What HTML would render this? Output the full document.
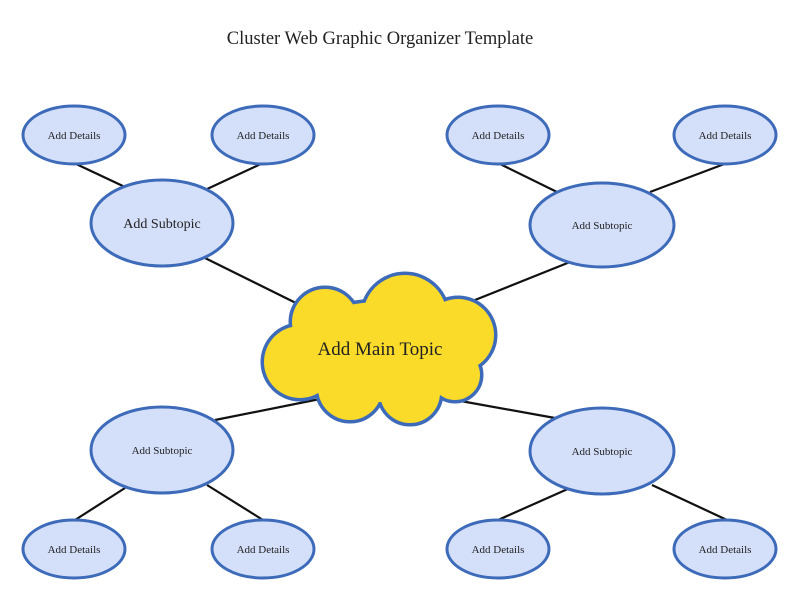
<!DOCTYPE html>
<html><head><style>body{margin:0;background:#fff}svg{display:block}</style></head><body>
<svg width="800" height="592" xmlns="http://www.w3.org/2000/svg" font-family="Liberation Serif, serif">
<rect width="800" height="592" fill="#fff"/>
<text x="380" y="44" font-size="18.5" text-anchor="middle" fill="#222">Cluster Web Graphic Organizer Template</text>
<g stroke="#111" stroke-width="2.2">
<line x1="74" y1="163" x2="125" y2="187"/><line x1="263" y1="163" x2="205" y2="190"/><line x1="205" y1="258" x2="300" y2="305"/>
<line x1="498" y1="163" x2="557" y2="192"/><line x1="727" y1="163" x2="650" y2="192"/><line x1="570" y1="262" x2="455" y2="308"/>
<line x1="215" y1="420" x2="325" y2="398"/><line x1="125" y1="488" x2="75" y2="520"/><line x1="207" y1="485" x2="263" y2="520"/>
<line x1="455" y1="400" x2="555" y2="418"/><line x1="570" y1="488" x2="498" y2="520"/><line x1="652" y1="485" x2="727" y2="520"/>
</g>
<g fill="#d4dffa" stroke="#3d6bb9" stroke-width="3">
<ellipse cx="74" cy="135" rx="51" ry="29"/><ellipse cx="263" cy="135" rx="51" ry="29"/>
<ellipse cx="498" cy="135" rx="51" ry="29"/><ellipse cx="725" cy="135" rx="51" ry="29"/>
<ellipse cx="74" cy="549" rx="51" ry="29"/><ellipse cx="263" cy="549" rx="51" ry="29"/>
<ellipse cx="498" cy="549" rx="51" ry="29"/><ellipse cx="725" cy="549" rx="51" ry="29"/>
<ellipse cx="162" cy="223" rx="71" ry="43"/><ellipse cx="602" cy="225" rx="72" ry="42"/>
<ellipse cx="162" cy="450" rx="71" ry="43"/><ellipse cx="602" cy="451" rx="72" ry="43"/>
</g>
<g stroke="#3d6bb9" stroke-width="7" fill="#3d6bb9">
<ellipse cx="380" cy="352" rx="90" ry="50"/><circle cx="325" cy="322" r="33"/><circle cx="405" cy="317" r="42"/>
<circle cx="458" cy="335" r="36"/><circle cx="300" cy="362" r="36"/><circle cx="350" cy="388" r="32"/>
<circle cx="410" cy="393" r="30"/><circle cx="455" cy="375" r="25"/>
</g>
<g fill="#fadb2a">
<ellipse cx="380" cy="352" rx="90" ry="50"/><circle cx="325" cy="322" r="33"/><circle cx="405" cy="317" r="42"/>
<circle cx="458" cy="335" r="36"/><circle cx="300" cy="362" r="36"/><circle cx="350" cy="388" r="32"/>
<circle cx="410" cy="393" r="30"/><circle cx="455" cy="375" r="25"/>
</g>
<text x="380" y="355" font-size="19" text-anchor="middle" fill="#222">Add Main Topic</text>
<g font-size="11" text-anchor="middle" fill="#222">
<text x="74" y="139">Add Details</text><text x="263" y="139">Add Details</text>
<text x="498" y="139">Add Details</text><text x="725" y="139">Add Details</text>
<text x="74" y="553">Add Details</text><text x="263" y="553">Add Details</text>
<text x="498" y="553">Add Details</text><text x="725" y="553">Add Details</text>
<text x="602" y="229">Add Subtopic</text><text x="162" y="454">Add Subtopic</text><text x="602" y="455">Add Subtopic</text>
</g>
<text x="162" y="228" font-size="14" text-anchor="middle" fill="#222">Add Subtopic</text>
</svg>
</body></html>
